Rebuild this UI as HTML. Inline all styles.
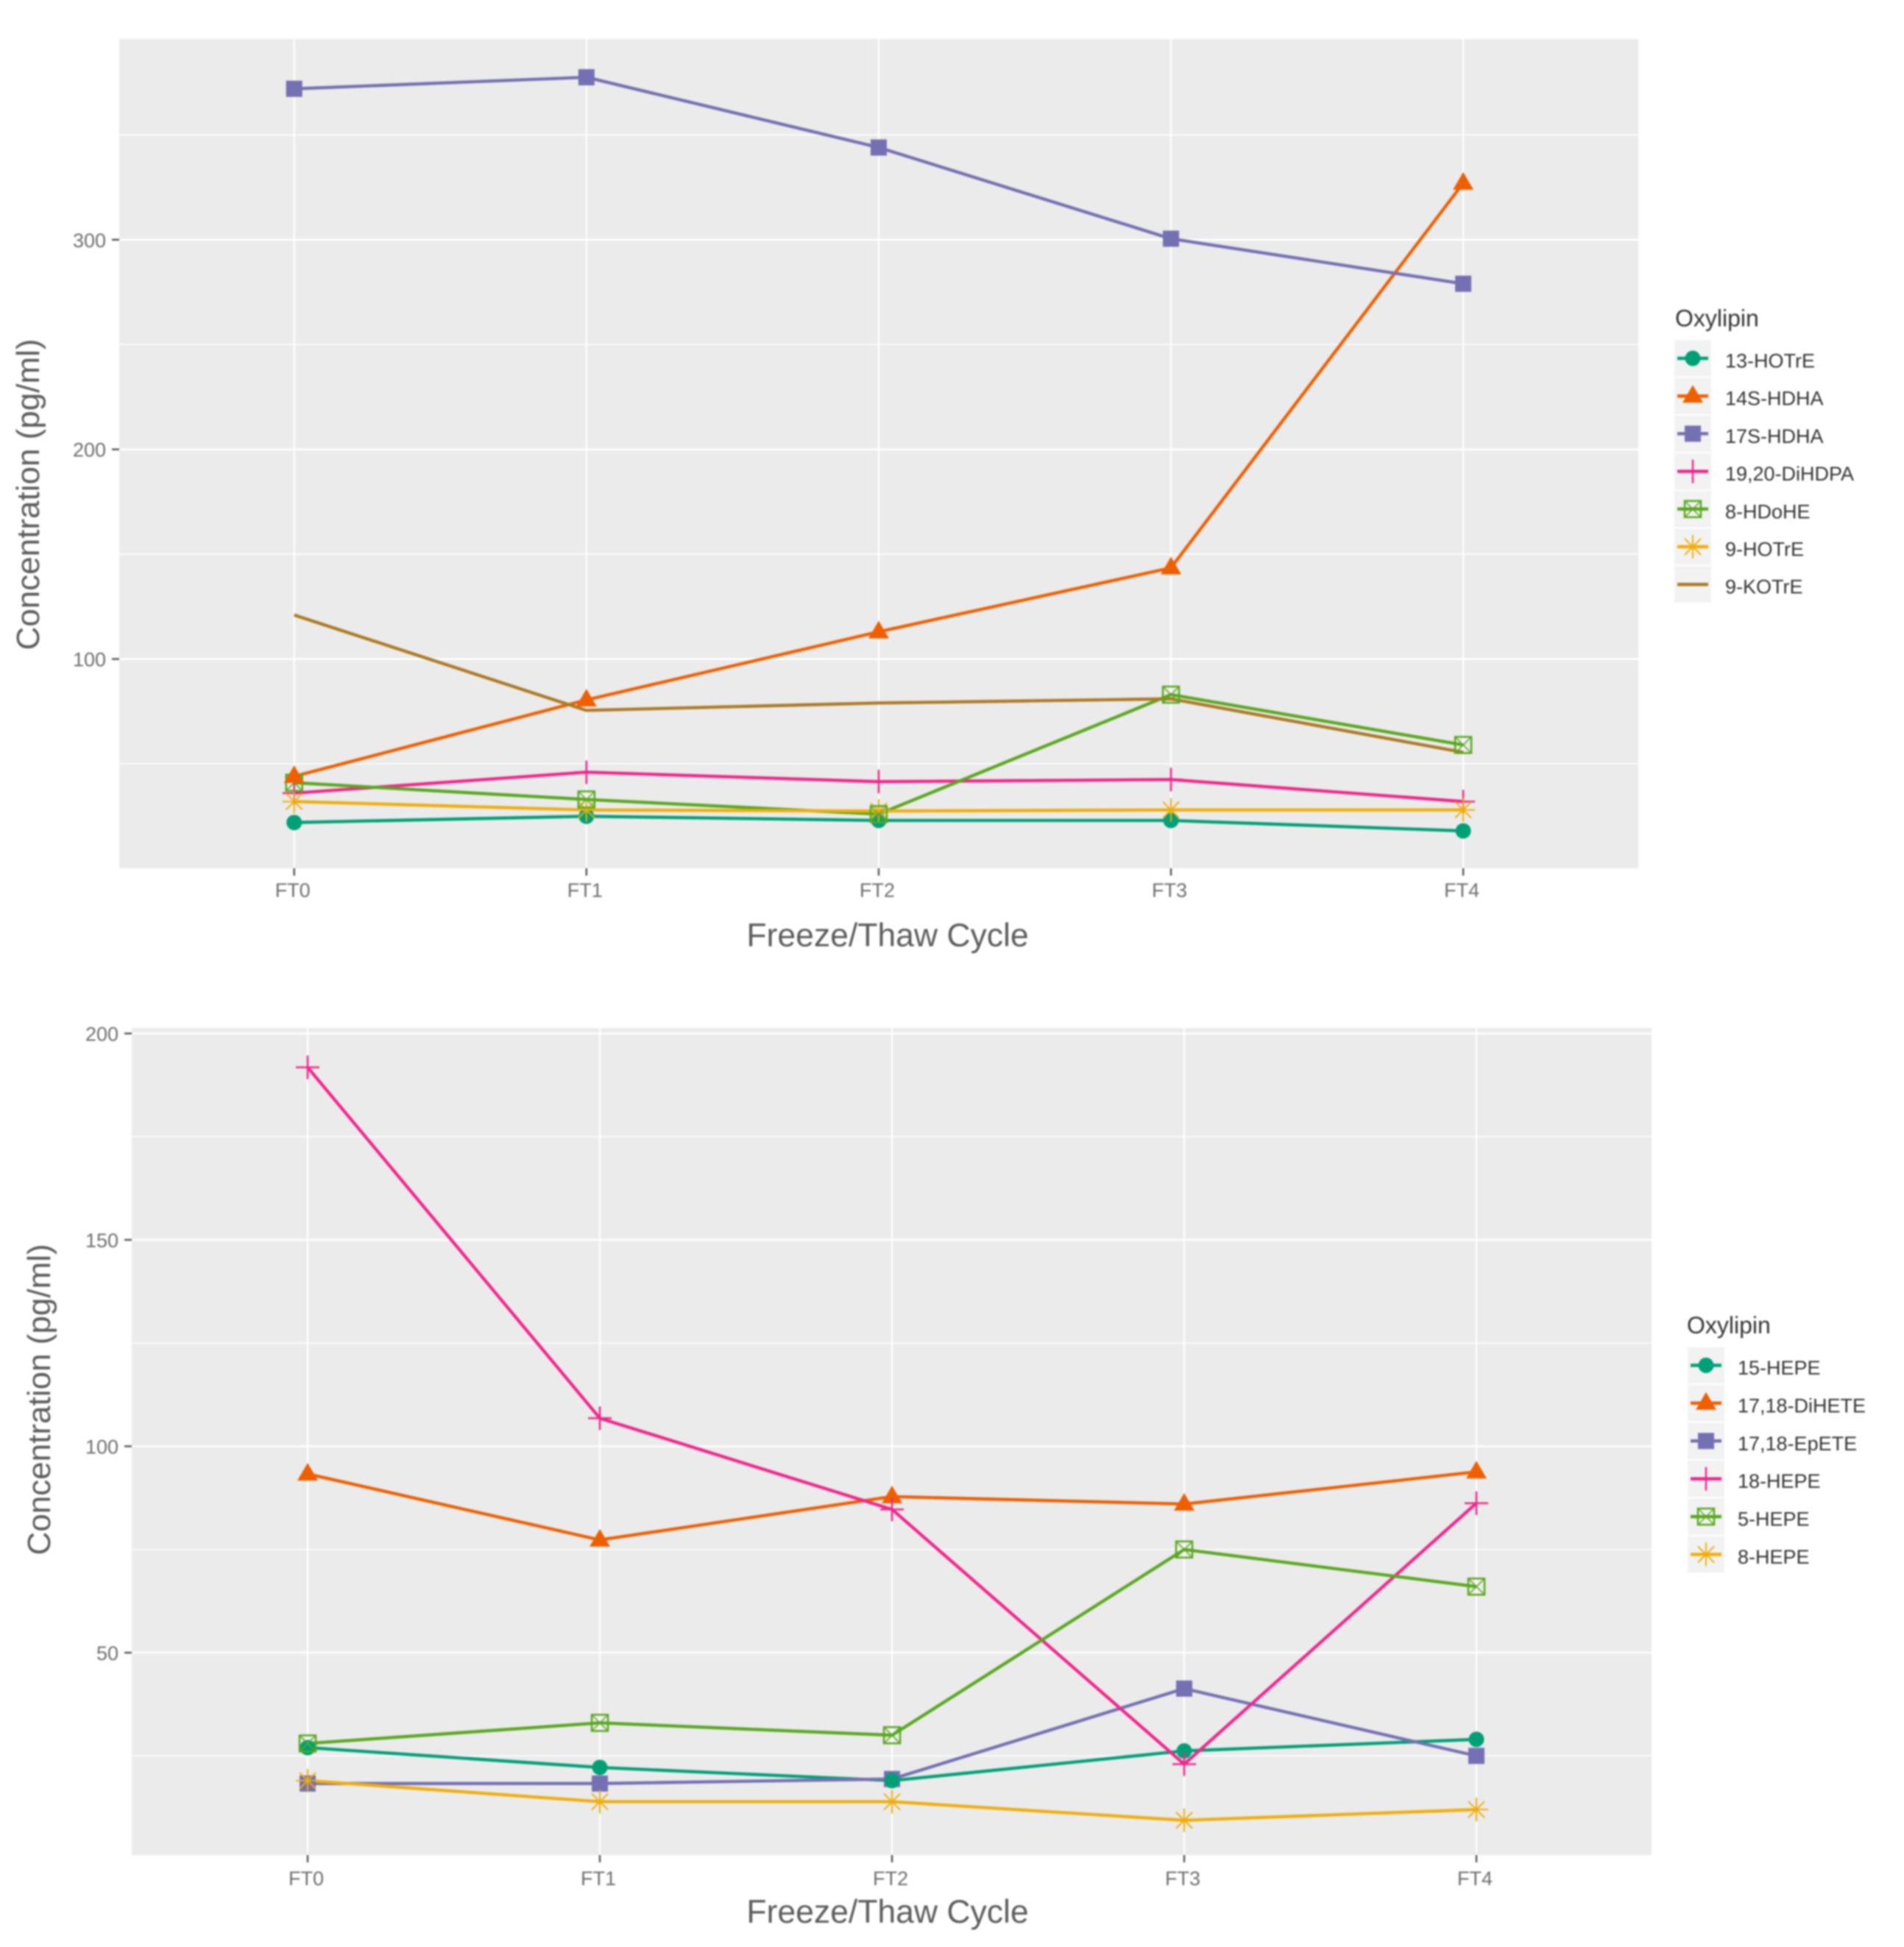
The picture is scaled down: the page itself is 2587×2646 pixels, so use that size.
<!DOCTYPE html>
<html lang="en">
<head>
<meta charset="utf-8">
<title>Oxylipin concentration across freeze/thaw cycles</title>
<style>
html,body{margin:0;padding:0;background:#fff;}
svg{display:block;filter:blur(1px);}
text{font-family:"Liberation Sans",Arial,sans-serif;}
</style>
</head>
<body>
<svg id="figure" xmlns="http://www.w3.org/2000/svg" width="2587" height="2646" viewBox="0 0 2587 2646">
  <rect x="0" y="0" width="2587" height="2646" fill="#ffffff"/>
  <g id="chart-top"></g>
  <g id="chart-bottom"></g>
  <text transform="translate(53,672) rotate(-90)" text-anchor="middle" font-size="44" fill="#5c5c5c">Concentration (pg/ml)</text>
  <text x="1206" y="1286" text-anchor="middle" font-size="44.5" fill="#5c5c5c">Freeze/Thaw Cycle</text>
  <text x="2276" y="443.5" font-size="32" fill="#333333">Oxylipin</text>
  <text transform="translate(68,1902) rotate(-90)" text-anchor="middle" font-size="44" fill="#5c5c5c">Concentration (pg/ml)</text>
  <text x="1206" y="2613" text-anchor="middle" font-size="44.5" fill="#5c5c5c">Freeze/Thaw Cycle</text>
  <text x="2292" y="1812" font-size="32" fill="#333333">Oxylipin</text>
</svg>
<script>
// ---------- Shared data ----------
const categories = ["FT0", "FT1", "FT2", "FT3", "FT4"];

// ---------- Top chart data ----------
const topMajorTicks = [100, 200, 300];
const topMinorTicks = [50, 150, 250, 350];
const topSeriesNames = ["13-HOTrE", "14S-HDHA", "17S-HDHA", "19,20-DiHDPA", "8-HDoHE", "9-HOTrE", "9-KOTrE"];
const hotre13Values = [22, 25, 23, 23, 18];
const hdha14sValues = [44, 80.5, 113, 143.5, 327];
const hdha17sValues = [372, 377.5, 344, 300.5, 279];
const dihdpa1920Values = [36, 46, 41.5, 42.5, 32];
const hdohe8Values = [41, 33, 26, 83, 59];
const hotre9Values = [32, 28, 27.5, 28, 28];
const kotre9Values = [121, 75.5, 79, 81, 55.5];

// ---------- Bottom chart data ----------
const bottomMajorTicks = [50, 100, 150, 200];
const bottomMinorTicks = [25, 75, 125, 175];
const bottomSeriesNames = ["15-HEPE", "17,18-DiHETE", "17,18-EpETE", "18-HEPE", "5-HEPE", "8-HEPE"];
const hepe15Values = [27, 22.2, 19, 26.2, 29];
const dihete1718Values = [93.3, 77.3, 87.8, 86, 93.8];
const epete1718Values = [18.3, 18.3, 19.4, 41.3, 25];
const hepe18Values = [191.8, 106.8, 84.7, 23, 86.2];
const hepe5Values = [28, 33, 30, 75, 66];
const hepe8Values = [19, 13.9, 13.9, 9.4, 12];

// ---------- Styling and layout ----------
const SVG_NS = "http://www.w3.org/2000/svg";
const TEAL = "#00a077", ORANGE = "#ef5f00", PURPLE = "#7570b3", PINK = "#f0278c",
      GREEN = "#59a81f", YELLOW = "#f0ae0c", BROWN = "#ad7a24";

const topStyles = {
  "13-HOTrE": {color: TEAL, shape: "circle"},
  "14S-HDHA": {color: ORANGE, shape: "triangle"},
  "17S-HDHA": {color: PURPLE, shape: "square"},
  "19,20-DiHDPA": {color: PINK, shape: "plus"},
  "8-HDoHE": {color: GREEN, shape: "boxcross"},
  "9-HOTrE": {color: YELLOW, shape: "asterisk"},
  "9-KOTrE": {color: BROWN, shape: "none"}
};
const bottomStyles = {
  "15-HEPE": {color: TEAL, shape: "circle"},
  "17,18-DiHETE": {color: ORANGE, shape: "triangle"},
  "17,18-EpETE": {color: PURPLE, shape: "square"},
  "18-HEPE": {color: PINK, shape: "plus"},
  "5-HEPE": {color: GREEN, shape: "boxcross"},
  "8-HEPE": {color: YELLOW, shape: "asterisk"}
};

function slug(s){ return s.toLowerCase().replace(/[^a-z0-9]+/g, "-"); }

function mk(parent, tag, attrs){
  const el = document.createElementNS(SVG_NS, tag);
  for (const k in attrs) el.setAttribute(k, attrs[k]);
  parent.appendChild(el);
  return el;
}

function drawMarker(parent, shape, x, y, color, name){
  const g = mk(parent, "g", {fill: "none", stroke: color, "stroke-width": 2.5});
  
  
  if (shape === "circle") {
    mk(g, "circle", {cx: x, cy: y, r: 10.5, fill: color, stroke: "none"});
  } else if (shape === "triangle") {
    mk(g, "path", {d: `M${x} ${y-15}L${x+14} ${y+9}L${x-14} ${y+9}Z`, fill: color, stroke: "none"});
  } else if (shape === "square") {
    mk(g, "rect", {x: x-11, y: y-11, width: 22, height: 22, fill: color, stroke: "none"});
  } else if (shape === "plus") {
    mk(g, "path", {d: `M${x-16} ${y}H${x+16}M${x} ${y-16}V${y+16}`});
  } else if (shape === "boxcross") {
    mk(g, "rect", {x: x-11, y: y-11, width: 22, height: 22});
    mk(g, "path", {d: `M${x-11} ${y-11}L${x+11} ${y+11}M${x+11} ${y-11}L${x-11} ${y+11}`, "stroke-width": 1.5});
  } else if (shape === "asterisk") {
    mk(g, "path", {d: `M${x-16} ${y}H${x+16}M${x} ${y-16}V${y+16}M${x-11} ${y-11}L${x+11} ${y+11}M${x+11} ${y-11}L${x-11} ${y+11}`, "stroke-width": 2});
  }
}

function drawChart(cfg){
  const root = document.getElementById(cfg.rootId);
  const p = cfg.panel;
  const xScale = i => cfg.x0 + i * cfg.dx;
  const yScale = v => cfg.yRefPx - (v - cfg.yRef) * cfg.pxPerUnit;

  const bg = mk(root, "rect", {x: p.left, y: p.top, width: p.right - p.left, height: p.bottom - p.top, fill: "#ebebeb"});
  
  

  cfg.minor.forEach(v => {
    const ln = mk(root, "line", {x1: p.left, x2: p.right, y1: yScale(v), y2: yScale(v), stroke: "#ffffff", "stroke-width": 1.6});
    
    
  });
  cfg.major.forEach(v => {
    const y = yScale(v);
    const ln = mk(root, "line", {x1: p.left, x2: p.right, y1: y, y2: y, stroke: "#ffffff", "stroke-width": 2.6});
    
    
    const tick = mk(root, "line", {x1: p.left - 10, x2: p.left, y1: y, y2: y, stroke: "#5a5a5a", "stroke-width": 2.5});
    
    
    const t = mk(root, "text", {x: p.left - 18, y: y + 10, "text-anchor": "end", "font-size": 27, fill: "#6e6e6e"});
    
    
    t.textContent = String(v);
  });
  categories.forEach((c, i) => {
    const x = xScale(i);
    const ln = mk(root, "line", {x1: x, x2: x, y1: p.top, y2: p.bottom, stroke: "#ffffff", "stroke-width": 2.2});
    
    
    const tick = mk(root, "line", {x1: x, x2: x, y1: p.bottom, y2: p.bottom + 10, stroke: "#5a5a5a", "stroke-width": 2.5});
    
    
    const t = mk(root, "text", {x: x - 2, y: p.bottom + cfg.tickLabelOffset, "text-anchor": "middle", "font-size": 27, fill: "#6e6e6e"});
    
    
    t.textContent = c;
  });

  // Lines
  cfg.names.forEach(name => {
    const vals = cfg.values[name];
    const pts = vals.map((v, i) => xScale(i).toFixed(1) + "," + yScale(v).toFixed(1)).join(" ");
    const pl = mk(root, "polyline", {points: pts, fill: "none", stroke: cfg.styles[name].color, "stroke-width": 4.3, "stroke-linejoin": "round"});
    
    
  });
  // Points
  cfg.pointOrder.forEach(name => {
    const st = cfg.styles[name];
    cfg.values[name].forEach((v, i) => {
      drawMarker(root, st.shape, xScale(i), yScale(v), st.color, 'point-' + slug(name) + '-' + categories[i].toLowerCase());
    });
  });

  // Legend
  const L = cfg.legend;
  cfg.names.forEach((name, i) => {
    const st = cfg.styles[name];
    const cy = L.firstY + i * L.stepY;
    const key = mk(root, "rect", {x: L.cx - 25, y: cy - L.stepY / 2 + 1, width: 50, height: L.stepY - 2, fill: "#f2f2f2"});
    
    
    const ln = mk(root, "line", {x1: L.cx - 21, x2: L.cx + 21, y1: cy, y2: cy, stroke: st.color, "stroke-width": 4.5});
    
    
    drawMarker(root, st.shape, L.cx, cy, st.color, 'legend-marker-' + slug(name));
    const t = mk(root, "text", {x: L.textX, y: cy + 12.5, "font-size": 27, fill: "#333333"});
    
    
    t.textContent = name;
  });
}

drawChart({
  rootId: "chart-top",
  panel: {left: 162, right: 2226, top: 53, bottom: 1180},
  x0: 399.7, dx: 397.1,
  yRef: 100, yRefPx: 895.6, pxPerUnit: 2.849,
  major: topMajorTicks, minor: topMinorTicks,
  tickLabelOffset: 39,
  names: topSeriesNames,
  pointOrder: ["13-HOTrE", "19,20-DiHDPA", "9-HOTrE", "8-HDoHE", "17S-HDHA", "14S-HDHA"],
  styles: topStyles,
  values: {
    "13-HOTrE": hotre13Values,
    "14S-HDHA": hdha14sValues,
    "17S-HDHA": hdha17sValues,
    "19,20-DiHDPA": dihdpa1920Values,
    "8-HDoHE": hdohe8Values,
    "9-HOTrE": hotre9Values,
    "9-KOTrE": kotre9Values
  },
  legend: {cx: 2300, firstY: 487, stepY: 51.2, textX: 2344}
});

drawChart({
  rootId: "chart-bottom",
  panel: {left: 179, right: 2244, top: 1397, bottom: 2521},
  x0: 418, dx: 397,
  yRef: 100, yRefPx: 1965.5, pxPerUnit: 5.61,
  major: bottomMajorTicks, minor: bottomMinorTicks,
  tickLabelOffset: 41,
  names: bottomSeriesNames,
  pointOrder: ["17,18-EpETE", "15-HEPE", "17,18-DiHETE", "18-HEPE", "5-HEPE", "8-HEPE"],
  styles: bottomStyles,
  values: {
    "15-HEPE": hepe15Values,
    "17,18-DiHETE": dihete1718Values,
    "17,18-EpETE": epete1718Values,
    "18-HEPE": hepe18Values,
    "5-HEPE": hepe5Values,
    "8-HEPE": hepe8Values
  },
  legend: {cx: 2318, firstY: 1855.5, stepY: 51.4, textX: 2361}
});
</script>
</body>
</html>
